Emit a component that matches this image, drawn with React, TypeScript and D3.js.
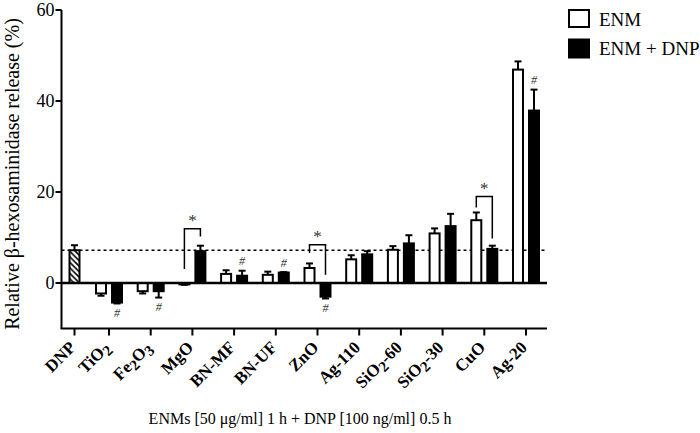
import React from 'react';
import * as d3 from 'd3';

// ---- data ----
const dnpLabel = 'DNP';
const dnpMean = 7.2;
const dnpErr = 1.1;

const categories = ['TiO2', 'Fe2O3', 'MgO', 'BN-MF', 'BN-UF', 'ZnO', 'Ag-110', 'SiO2-60', 'SiO2-30', 'CuO', 'Ag-20'];
const enmMean = [-2.3, -1.8, -0.3, 2.0, 1.8, 3.3, 5.2, 7.3, 10.9, 13.8, 46.9];
const enmErr = [0.5, 0.5, 0.1, 0.8, 0.7, 1.0, 0.9, 0.8, 1.1, 1.7, 1.8];
const enmDnpMean = [-4.3, -1.8, 7.0, 1.6, 2.3, -3.0, 6.3, 8.7, 12.5, 7.5, 37.9];
const enmDnpErr = [0.2, 1.4, 1.2, 1.1, 0.1, 0.4, 0.7, 1.8, 2.7, 0.7, 4.6];

const hashCats = ['TiO2', 'Fe2O3', 'BN-MF', 'BN-UF', 'ZnO', 'Ag-20'];

const bracketCats = ['MgO', 'ZnO', 'CuO'];
const bracketTop = [11.9, 8.4, 19.0];
const bracketLeftEnd = [3.1, 6.6, 16.6];
const bracketRightEnd = [10.2, 1.8, 9.8];

const yTicks = [0, 20, 40, 60];
const yDomain = [-10, 60];

const legendLabels = ['ENM', 'ENM + DNP'];
const yTitle = 'Relative \u03b2-hexosaminidase  release (%)';
const xTitle = 'ENMs [50 \u03bcg/ml] 1 h + DNP [100 ng/ml] 0.5 h';

// ---- layout ----
const W = 700;
const H = 433;
const FONT = '"Liberation Serif", "Times New Roman", Times, serif';
const axisLeft = 61.5;
const axisRight = 547;
const barW = 12;
const pairOffset = 8;
const capW = 7;

function splitFormula(s: string) {
  // digit right after a letter -> subscript
  const parts: { t: string; sub: boolean }[] = [];
  let prevSub = false;
  for (let i = 0; i < s.length; i++) {
    const c = s[i];
    const isDigit = /[0-9]/.test(c);
    const prev = i > 0 ? s[i - 1] : '';
    const sub = isDigit && (/[A-Za-z]/.test(prev) || (prevSub && /[0-9]/.test(prev)));
    if (parts.length && parts[parts.length - 1].sub === sub) parts[parts.length - 1].t += c;
    else parts.push({ t: c, sub });
    prevSub = sub;
  }
  return parts;
}

export default function App() {
  const y = d3.scaleLinear().domain(yDomain).range([328.5, 10]);
  const x = d3.scalePoint<string>().domain(categories).range([109, 526]);
  const dnpX = axisLeft + 13;
  const y0 = y(0);

  const bar = (cx: number, v: number, fill: string, key: string) => {
    const top = Math.min(y(v), y0);
    const h = Math.abs(y(v) - y0);
    return (
      <rect key={key} x={cx - barW / 2 + 1} y={top} width={barW - 2} height={h}
        fill={fill} stroke="#000" strokeWidth={2} />
    );
  };
  const errBar = (cx: number, v: number, e: number, key: string) => {
    const s = v >= 0 ? 1 : -1;
    const y1 = y(v);
    const y2 = y(v + s * e);
    return (
      <g key={key} stroke="#000" strokeWidth={2}>
        <line x1={cx} x2={cx} y1={y1} y2={y2} />
        <line x1={cx - capW / 2} x2={cx + capW / 2} y1={y2} y2={y2} />
      </g>
    );
  };

  const tickLabelX = [dnpLabel, ...categories];
  const tickPos = [dnpX, ...categories.map((c) => x(c) as number)];

  return (
    <svg width={W} height={H} viewBox={`0 0 ${W} ${H}`}
      style={{ position: 'absolute', left: 0, top: 0, background: '#fff' }} fontFamily={FONT}>
      <defs>
        <pattern id="hatch" width={5.5} height={5.5} patternUnits="userSpaceOnUse">
          <rect width={5.5} height={5.5} fill="#fff" />
          <path d="M-1,-1 L6.5,6.5 M-1,4.5 L1,6.5 M4.5,-1 L6.5,1" stroke="#000" strokeWidth={1.6} />
        </pattern>
      </defs>

      {/* dotted DNP reference line */}
      <line x1={axisLeft} x2={axisRight} y1={y(dnpMean)} y2={y(dnpMean)}
        stroke="#000" strokeWidth={1.4} strokeDasharray="3,3" />

      {/* bars */}
      {bar(dnpX, dnpMean, 'url(#hatch)', 'dnp')}
      {errBar(dnpX, dnpMean, dnpErr, 'dnpe')}
      {categories.map((c, i) => {
        const cx = x(c) as number;
        return (
          <g key={c}>
            {bar(cx - pairOffset, enmMean[i], '#fff', 'w')}
            {errBar(cx - pairOffset, enmMean[i], enmErr[i], 'we')}
            {bar(cx + pairOffset, enmDnpMean[i], '#000', 'b')}
            {errBar(cx + pairOffset, enmDnpMean[i], enmDnpErr[i], 'be')}
          </g>
        );
      })}

      {/* zero line */}
      <line x1={axisLeft} x2={axisRight} y1={y0} y2={y0} stroke="#000" strokeWidth={2.5} />

      {/* hash marks */}
      {hashCats.map((c) => {
        const i = categories.indexOf(c);
        const v = enmDnpMean[i];
        const s = v >= 0 ? 1 : -1;
        const end = y(v + s * enmDnpErr[i]);
        const cy = end - s * 9.5;
        return (
          <text key={c} x={(x(c) as number) + pairOffset} y={cy} dy="0.35em" textAnchor="middle"
            fontSize={12} fontStyle="italic" fill="#333">#</text>
        );
      })}

      {/* significance brackets */}
      {bracketCats.map((c, i) => {
        const cx = x(c) as number;
        const xl = cx - pairOffset;
        const xr = cx + pairOffset;
        const yt = y(bracketTop[i]);
        return (
          <g key={c}>
            <path d={`M${xl},${y(bracketLeftEnd[i])} V${yt} H${xr} V${y(bracketRightEnd[i])}`}
              fill="none" stroke="#000" strokeWidth={1.5} />
            <text x={cx} y={yt - 3} textAnchor="middle" fontSize={17} fill="#333">*</text>
          </g>
        );
      })}

      {/* y axis */}
      <line x1={axisLeft} x2={axisLeft} y1={y(60)} y2={y(-10)} stroke="#000" strokeWidth={2} />
      {yTicks.map((t) => (
        <g key={t}>
          <line x1={axisLeft - 6} x2={axisLeft} y1={y(t)} y2={y(t)} stroke="#000" strokeWidth={2} />
          <text x={axisLeft - 7} y={y(t)} dy="0.35em" textAnchor="end" fontSize={18}>{t}</text>
        </g>
      ))}

      {/* x axis */}
      <line x1={axisLeft - 1} x2={axisRight} y1={y(-10)} y2={y(-10)} stroke="#000" strokeWidth={2} />
      {tickPos.map((px, i) => (
        <g key={i}>
          <line x1={px} x2={px} y1={y(-10)} y2={y(-10) + 7} stroke="#000" strokeWidth={2} />
          <text transform={`translate(${px + 2},${y(-10) + 20}) rotate(-45)`} textAnchor="end"
            fontSize={17} fontWeight="bold">
            {splitFormula(tickLabelX[i]).map((p, j, arr) => {
              const prevSub = j > 0 && arr[j - 1].sub;
              const dy = p.sub ? 4 : prevSub ? -4 : 0;
              return (
                <tspan key={j} dy={dy} fontSize={p.sub ? 15 : undefined}>{p.t}</tspan>
              );
            })}
          </text>
        </g>
      ))}

      {/* axis titles */}
      <text transform={`translate(19,174) rotate(-90)`} textAnchor="middle" fontSize={20}>{yTitle}</text>
      <text x={300} y={424} textAnchor="middle" fontSize={16}>{xTitle}</text>

      {/* legend */}
      <rect x={569} y={10} width={20} height={17} fill="#fff" stroke="#000" strokeWidth={2} />
      <text x={599} y={26} fontSize={19}>{legendLabels[0]}</text>
      <rect x={568} y={38.5} width={22} height={20} fill="#000" />
      <text x={599} y={55} fontSize={19}>{legendLabels[1]}</text>
    </svg>
  );
}
